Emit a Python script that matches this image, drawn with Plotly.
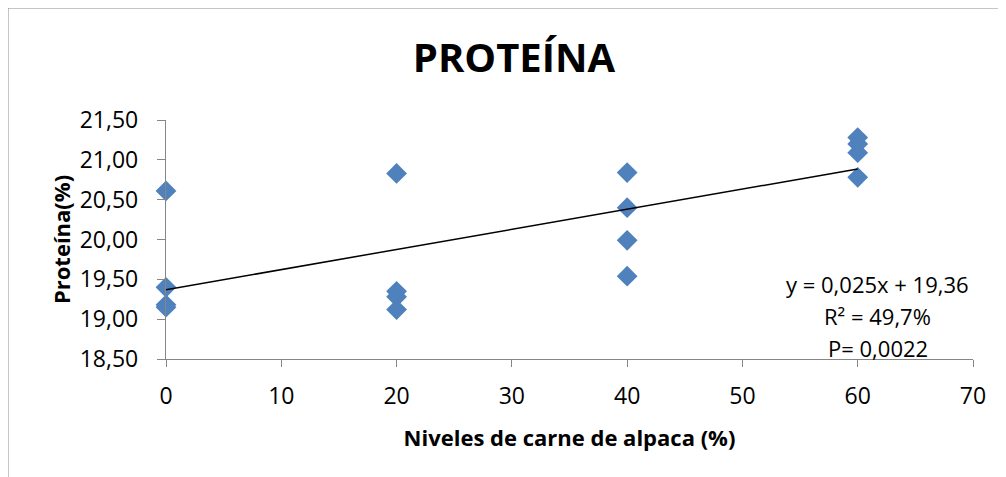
import numpy as np
import plotly.graph_objects as go

# Data
niveles = [0, 0, 0, 0, 20, 20, 20, 20, 40, 40, 40, 40, 60, 60, 60, 60]
proteina = [20.61, 19.40, 19.18, 19.15,
            20.83, 19.35, 19.28, 19.12,
            20.84, 20.40, 19.99, 19.54,
            21.28, 21.20, 21.09, 20.78]
x_ticks = [0, 10, 20, 30, 40, 50, 60, 70]
y_ticks = [18.5, 19.0, 19.5, 20.0, 20.5, 21.0, 21.5]
eq_lines = ["y = 0,025x + 19,36", "R² = 49,7%", "P= 0,0022"]

slope, intercept = np.polyfit(niveles, proteina, 1)
x_line = [min(niveles), max(niveles)]
y_line = [slope * v + intercept for v in x_line]

FONT = "Open Sans"
AXIS_COLOR = "#868686"

# The page body has an 8px margin, so the figure starts at (8, 8).
OFF = 8
W, H = 1006 - OFF, 477 - OFF

fig = go.Figure()
fig.add_trace(go.Scatter(
    x=niveles, y=proteina, mode="markers", cliponaxis=False,
    marker=dict(symbol="diamond", size=16, color="#4F81BD",
                line=dict(width=0)),
    showlegend=False, hoverinfo="x+y"))
fig.add_trace(go.Scatter(
    x=x_line, y=y_line, mode="lines", cliponaxis=False,
    line=dict(color="black", width=1.5),
    showlegend=False, hoverinfo="skip"))

fig.update_layout(
    width=W, height=H,
    margin=dict(l=166 - OFF, r=33, t=120 - OFF, b=118, autoexpand=False),
    paper_bgcolor="white", plot_bgcolor="white",
    separators=",.",
    font=dict(family=FONT, color="black", size=23),
    title=dict(text="<b>PROTEÍNA</b>", x=(514 - OFF) / W, xanchor="center",
               y=1 - (58 - OFF) / H, yanchor="middle",
               font=dict(family=FONT, size=40, color="black")),
    xaxis=dict(range=[0, 70], tickvals=x_ticks, showgrid=False, zeroline=False,
               showline=True, linecolor=AXIS_COLOR, linewidth=1.3,
               ticks="outside", ticklen=7, tickcolor=AXIS_COLOR, tickwidth=1.3,
               tickfont=dict(size=23), ticklabelstandoff=9, automargin=False,
               title=dict(text="<b>Niveles de carne de alpaca (%)</b>",
                          font=dict(size=22), standoff=20)),
    yaxis=dict(range=[18.5, 21.5], tickvals=y_ticks, tickformat=".2f",
               showgrid=False, zeroline=False,
               showline=True, linecolor=AXIS_COLOR, linewidth=1.3,
               ticks="outside", ticklen=8, tickcolor=AXIS_COLOR, tickwidth=1.3,
               tickfont=dict(size=23), ticklabelstandoff=14, automargin=False,
               title=dict(text="<b>Proteína(%)</b>", font=dict(size=22),
                          standoff=2)),
)

ann_y = [0.314, 0.18, 0.046]
for txt, yy in zip(eq_lines, ann_y):
    fig.add_annotation(text=txt, xref="paper", yref="paper", x=0.882, y=yy,
                       xanchor="center", yanchor="middle", showarrow=False,
                       font=dict(family=FONT, size=22, color="black"))

# Chart area border (partially visible, as in the reference)
fig.add_shape(type="rect", xref="paper", yref="paper",
              x0=-158 / 807, x1=2.0, y0=-1.0, y1=1 + 112 / 239,
              line=dict(color="#8c8c8c", width=1), layer="below")

fig.write_html("out.html")
